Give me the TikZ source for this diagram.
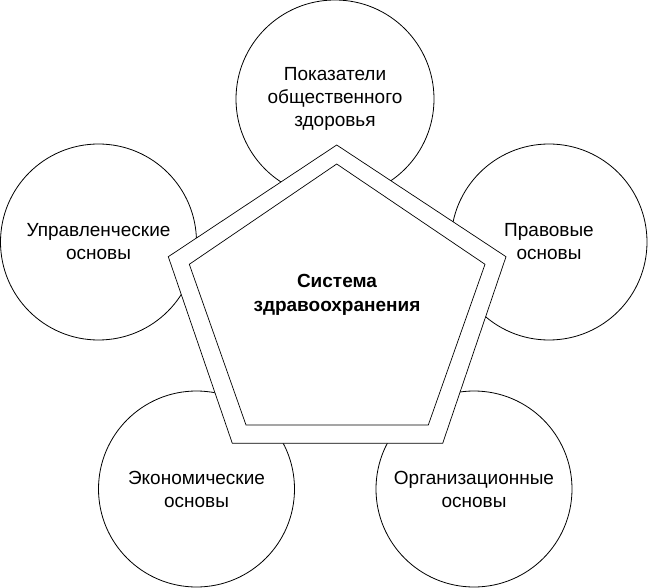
\documentclass[tikz,border=0pt]{standalone}
\usepackage{fontspec}
\setmainfont{Liberation Sans}
\begin{document}
\begin{tikzpicture}[x=1pt,y=-1pt,
  circ/.style={circle,draw,line width=0.8pt,minimum size=196pt,inner sep=0pt,
    align=center,font=\fontsize{19}{23}\selectfont},
  pent/.style={draw,line width=0.7pt,fill=white},
  title/.style={align=center,font=\fontsize{19}{23.5}\selectfont\bfseries}]
\useasboundingbox (0,0) rectangle (648,588);
\node[circ,minimum size=198pt] (top) at (335,99) {Показатели\\общественного\\здоровья};
\node[circ] (left) at (98.5,242) {Управленческие\\основы};
\node[circ] (right) at (549,242) {Правовые\\основы};
\node[circ] (bl) at (196.5,489) {Экономические\\основы};
\node[circ] (br) at (474,489) {Организационные\\основы};
\draw[pent] (336.7,145) -- (506,256.7) -- (442.7,443.3) -- (232.3,443.3) -- (168.3,256.7) -- cycle;
\draw[pent] (336.7,164) -- (485,264.3) -- (428.3,425) -- (246,425) -- (189.3,264.3) -- cycle;
\node[title] (sys) at (337,295) {Система\\здравоохранения};
\end{tikzpicture}
\end{document}
